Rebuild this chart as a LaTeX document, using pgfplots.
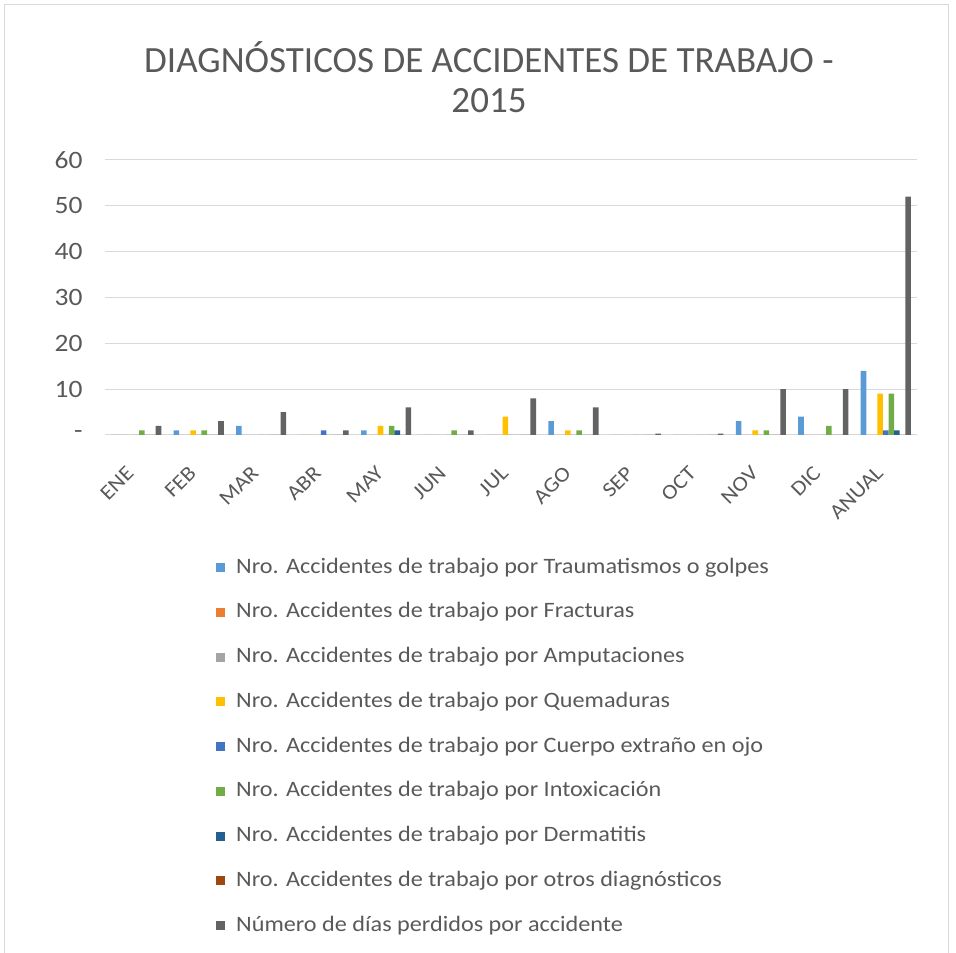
\documentclass[border=0pt]{standalone}
\usepackage{fontspec}
\setmainfont{Carlito}
\newfontfamily\wide[FakeStretch=1.1]{Carlito}
\usepackage{pgfplots}
\pgfplotsset{compat=1.18}
\usepackage{pgfplotstable}
\definecolor{c1}{HTML}{5B9BD5}
\definecolor{c2}{HTML}{ED7D31}
\definecolor{c3}{HTML}{A5A5A5}
\definecolor{c4}{HTML}{FFC000}
\definecolor{c5}{HTML}{4472C4}
\definecolor{c6}{HTML}{70AD47}
\definecolor{c7}{HTML}{255E91}
\definecolor{c8}{HTML}{9E480E}
\definecolor{c9}{HTML}{636363}
\definecolor{txt}{HTML}{595959}
\definecolor{gridc}{HTML}{D9D9D9}
\pgfplotstableread{
x s1 s2 s3 s4 s5 s6 s7 s8 s9
0 0 0 0 0 0 1 0 0 2
1 1 0 0 1 0 1 0 0 3
2 2 0 0 0 0 0 0 0 5
3 0 0 0 0 1 0 0 0 1
4 1 0 0 2 0 2 1 0 6
5 0 0 0 0 0 1 0 0 1
6 0 0 0 4 0 0 0 0 8
7 3 0 0 1 0 1 0 0 6
8 0 0 0 0 0 0 0 0 0.3
9 0 0 0 0 0 0 0 0 0.3
10 3 0 0 1 0 1 0 0 10
11 4 0 0 0 0 2 0 0 10
12 14 0 0 9 1 9 1 0 52
}\data
\begin{document}
\begin{tikzpicture}
\useasboundingbox (0pt,0pt) rectangle (956pt,953pt);
\draw[gridc, line width=1pt] (4pt,-5pt) rectangle (948pt,948pt);
\node[font=\fontsize{37}{40}\selectfont, text=txt, align=center] at (489pt,876pt)
  {DIAGNÓSTICOS DE ACCIDENTES DE TRABAJO -\\2015};
\begin{axis}[
  at={(105pt,518pt)}, anchor=south west,
  scale only axis, width=812pt, height=275pt,
  ybar=0pt, bar width=5.57pt,
  xmin=-0.5, xmax=12.5, ymin=0, ymax=60,
  enlargelimits=false,
  xtick={0,...,12},
  xticklabels={ENE,FEB,MAR,ABR,MAY,JUN,JUL,AGO,SEP,OCT,NOV,DIC,ANUAL},
  x tick label style={xshift=-11pt, yshift=-25pt, rotate=45, anchor=north east, font=\wide\fontsize{21}{24}\selectfont, text=txt},
  ytick={0,10,...,60},
  yticklabels={-,10,20,30,40,50,60},
  y tick label style={font=\wide\fontsize{25}{28}\selectfont, text=txt, xshift=-19pt},
  ymajorgrids, grid style={gridc, line width=1pt},
  axis line style={draw=none},
  major tick length=0pt,
  legend cell align=left,
  legend image code/.code={\fill[#1] (0pt,-4pt) rectangle (9pt,5pt);},
  legend style={at={(0.1367,-0.447)}, anchor=north west, draw=none, fill=none,
    inner sep=0pt, row sep=24.75pt,
    nodes={font=\wide\fontsize{22}{24}\selectfont, text=txt, inner sep=0pt, text height=15pt, text depth=5pt},
    /tikz/every odd column/.append style={column sep=11pt}},
]
\addplot[fill=c1, draw=none] table[x=x, y=s1] {\data};
\addplot[fill=c2, draw=none] table[x=x, y=s2] {\data};
\addplot[fill=c3, draw=none] table[x=x, y=s3] {\data};
\addplot[fill=c4, draw=none] table[x=x, y=s4] {\data};
\addplot[fill=c5, draw=none] table[x=x, y=s5] {\data};
\addplot[fill=c6, draw=none] table[x=x, y=s6] {\data};
\addplot[fill=c7, draw=none] table[x=x, y=s7] {\data};
\addplot[fill=c8, draw=none] table[x=x, y=s8] {\data};
\addplot[fill=c9, draw=none] table[x=x, y=s9] {\data};
\legend{Nro. Accidentes de trabajo por Traumatismos o golpes,
Nro. Accidentes de trabajo por Fracturas,
Nro. Accidentes de trabajo por Amputaciones,
Nro. Accidentes de trabajo por Quemaduras,
Nro. Accidentes de trabajo por Cuerpo extraño en ojo,
Nro. Accidentes de trabajo por Intoxicación,
Nro. Accidentes de trabajo por Dermatitis,
Nro. Accidentes de trabajo por otros diagnósticos,
Número de días perdidos por accidente}
\end{axis}
\end{tikzpicture}
\end{document}
